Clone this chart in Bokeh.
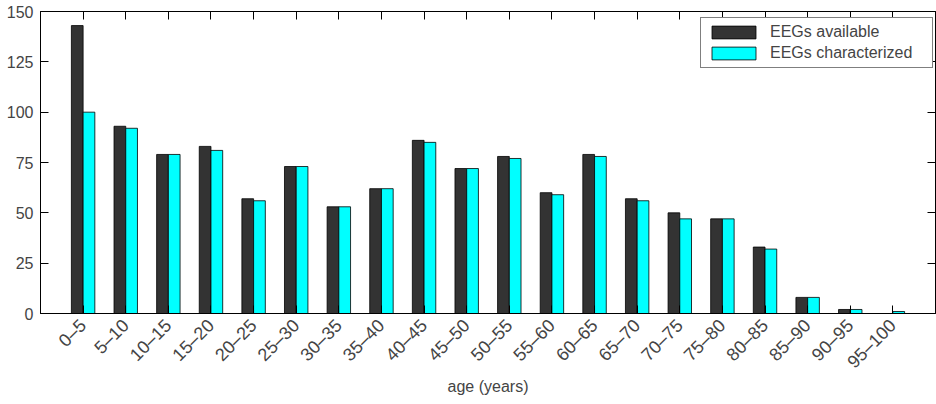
import numpy as np
from bokeh.plotting import figure
from bokeh.models import (ColumnDataSource, FixedTicker, LinearAxis, Range1d, Legend, LegendItem)
from bokeh.embed import file_html
from bokeh.resources import INLINE

age_groups = ["0–5", "5–10", "10–15", "15–20", "20–25", "25–30", "30–35", "35–40",
              "40–45", "45–50", "50–55", "55–60", "60–65", "65–70", "70–75", "75–80",
              "80–85", "85–90", "90–95", "95–100"]
eegs_available = [143, 93, 79, 83, 57, 73, 53, 62, 86, 72, 78, 60, 79, 57, 50, 47, 33, 8, 2, 0]
eegs_characterized = [100, 92, 79, 81, 56, 73, 53, 62, 85, 72, 77, 59, 78, 56, 47, 47, 32, 8, 2, 1]
y_ticks = [0, 25, 50, 75, 100, 125, 150]

FONT = "Liberation Sans"
bw = 0.275
pos = np.arange(1, len(age_groups) + 1)

src = ColumnDataSource(dict(
    x_av=pos - bw / 2, x_ch=pos + bw / 2,
    av=eegs_available, ch=eegs_characterized))

p = figure(width=936, height=404, output_backend="svg", toolbar_location=None,
           x_range=Range1d(0, len(age_groups) + 1), y_range=Range1d(0, 150),
           min_border_left=40, min_border_right=1, min_border_top=11, min_border_bottom=91)
p.xgrid.visible = False
p.ygrid.visible = False
p.outline_line_color = "black"
p.outline_line_width = 1
p.background_fill_color = "white"
p.border_fill_color = "white"

r1 = p.vbar(x="x_av", top="av", width=bw, source=src, fill_color="#333333", line_color="black", line_width=0.8)
r2 = p.vbar(x="x_ch", top="ch", width=bw, source=src, fill_color="#00ffff", line_color="black", line_width=0.8)

def style(ax, labels=True):
    ax.major_tick_in = 8
    ax.major_tick_out = 0
    ax.minor_tick_in = 0
    ax.minor_tick_out = 0
    ax.axis_line_color = "black"
    ax.major_tick_line_color = "black"
    if not labels:
        ax.major_label_text_font_size = "0px"
        ax.major_label_text_color = None

xa = p.xaxis[0]
xa.ticker = FixedTicker(ticks=list(pos))
xa.major_label_overrides = {int(i): s for i, s in zip(pos, age_groups)}
xa.major_label_orientation = np.pi / 4
xa.major_label_text_font = FONT
xa.major_label_text_font_size = "18px"
xa.major_label_standoff = 9
xa.axis_label = "age (years)"
xa.axis_label_text_font = FONT
xa.axis_label_text_font_size = "16px"
xa.axis_label_text_font_style = "normal"
xa.axis_label_standoff = -4
style(xa)

ya = p.yaxis[0]
ya.ticker = FixedTicker(ticks=y_ticks)
ya.major_label_text_font = FONT
ya.major_label_text_font_size = "16px"
ya.major_label_standoff = 7
style(ya)

top = LinearAxis(ticker=FixedTicker(ticks=list(pos)))
style(top, labels=False)
p.add_layout(top, "above")
right = LinearAxis(ticker=FixedTicker(ticks=y_ticks))
style(right, labels=False)
p.add_layout(right, "right")

legend = Legend(items=[LegendItem(label="EEGs available", renderers=[r1]),
                       LegendItem(label="EEGs characterized", renderers=[r2])],
                location=(660, 245))
legend.label_text_font = FONT
legend.label_text_font_size = "16px"
legend.glyph_width = 55
legend.glyph_height = 16
legend.label_height = 16
legend.label_width = 157
legend.label_standoff = 9
legend.padding = 5
legend.spacing = 3
legend.margin = 0
legend.border_line_color = "black"
legend.border_line_width = 1
legend.background_fill_alpha = 1
p.add_layout(legend)

open("out.html", "w").write(file_html(p, INLINE))
